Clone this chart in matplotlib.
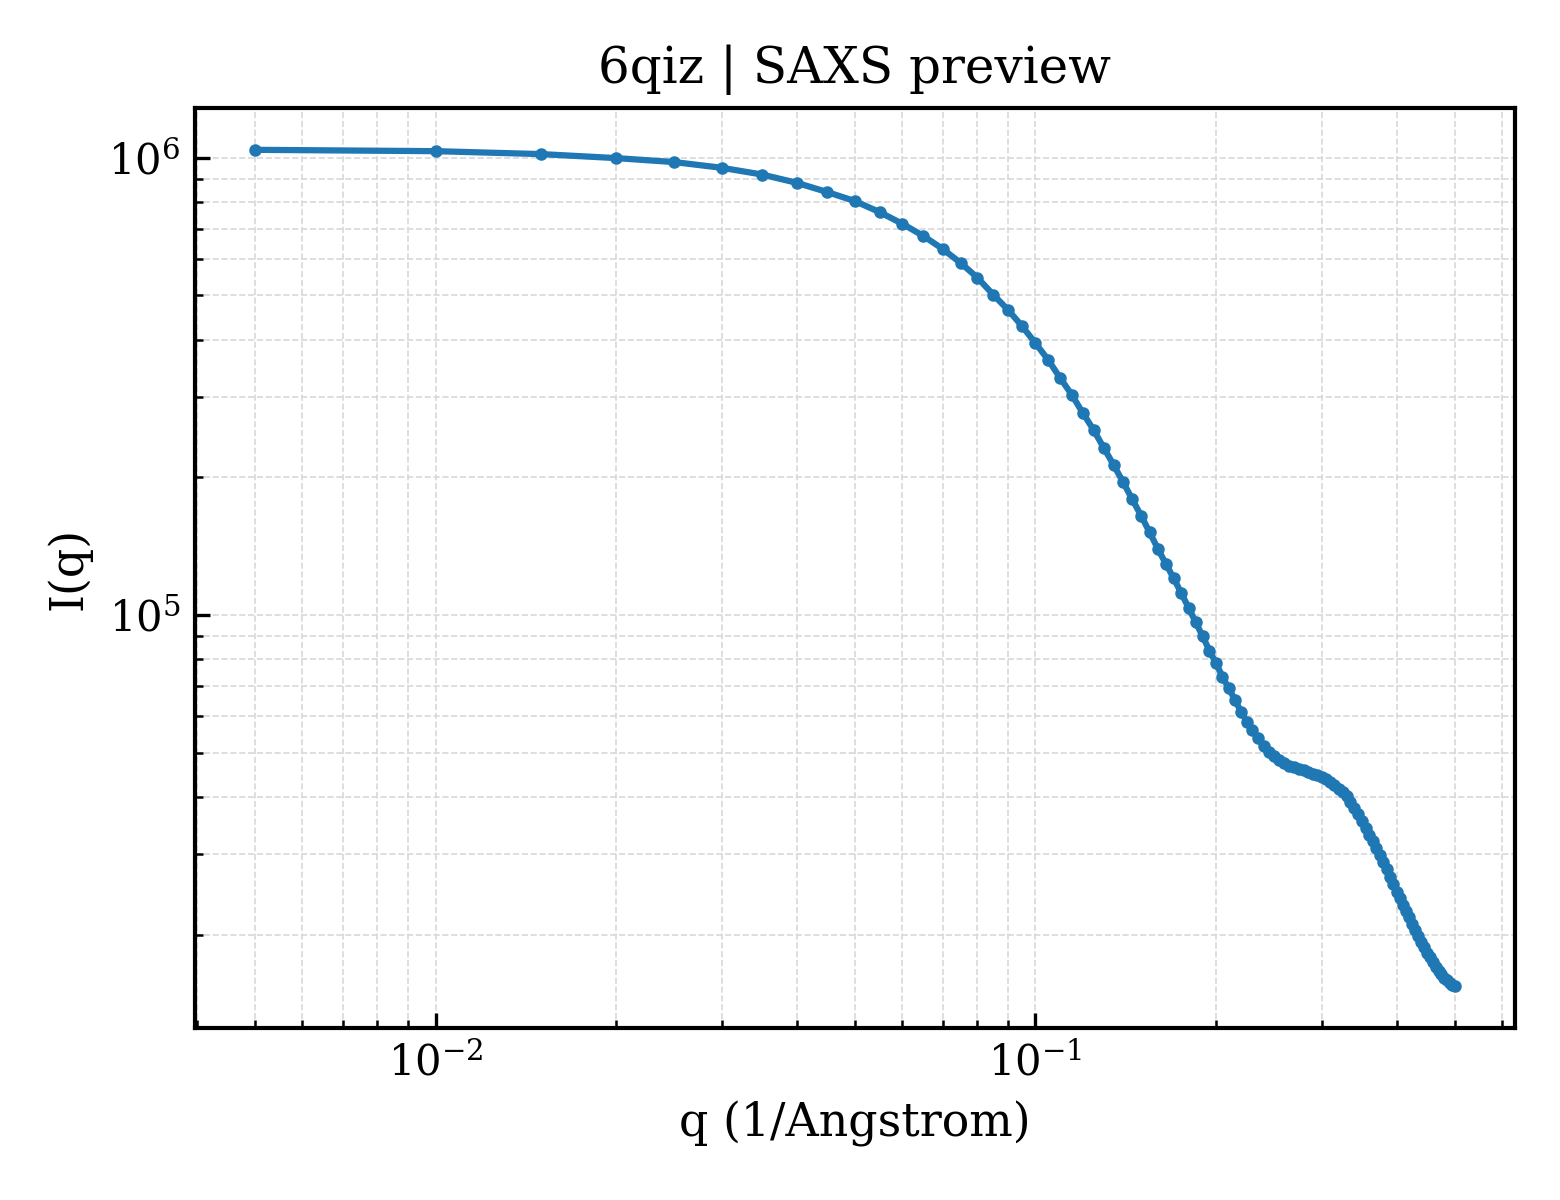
import matplotlib
matplotlib.use("Agg")
import matplotlib.pyplot as plt

q = [0.005, 0.010, 0.015, 0.020, 0.025, 0.030, 0.035, 0.040, 0.045, 0.050,
     0.055, 0.060, 0.065, 0.070, 0.075, 0.080, 0.085, 0.090, 0.095, 0.100,
     0.105, 0.110, 0.115, 0.120, 0.125, 0.130, 0.135, 0.140, 0.145, 0.150,
     0.155, 0.160, 0.165, 0.170, 0.175, 0.180, 0.185, 0.190, 0.195, 0.200,
     0.205, 0.210, 0.215, 0.220, 0.225, 0.230, 0.235, 0.240, 0.245, 0.250,
     0.255, 0.260, 0.265, 0.270, 0.275, 0.280, 0.285, 0.290, 0.295, 0.300,
     0.305, 0.310, 0.315, 0.320, 0.325, 0.330, 0.335, 0.340, 0.345, 0.350,
     0.355, 0.360, 0.365, 0.370, 0.375, 0.380, 0.385, 0.390, 0.395, 0.400,
     0.405, 0.410, 0.415, 0.420, 0.425, 0.430, 0.435, 0.440, 0.445, 0.450,
     0.455, 0.460, 0.465, 0.470, 0.475, 0.480, 0.485, 0.490, 0.495, 0.500]

intensity = [1041000, 1034000, 1018800, 998500, 978600, 950900, 919300, 881600, 841300, 804100,
             760600, 717100, 674900, 632200, 589200, 547100, 502200, 465000, 428200, 393200,
             361400, 329600, 303000, 276300, 254000, 232000, 212900, 195200, 179100, 164900,
             151700, 139500, 129300, 120300, 111700, 103700, 96390, 89820, 83540, 78400,
             73290, 69110, 65260, 61500, 58460, 56010, 53720, 51810, 50260, 49130,
             48150, 47430, 46840, 46420, 46040, 45700, 45350, 45010, 44690, 44290,
             43760, 43100, 42390, 41710, 40940, 40120, 39060, 37900, 36680, 35410,
             34190, 33060, 31980, 30960, 29920, 28850, 27810, 26780, 25780, 24830,
             24030, 23240, 22510, 21810, 21130, 20500, 19880, 19300, 18750, 18250,
             17820, 17400, 17030, 16670, 16360, 16100, 15890, 15700, 15540, 15420]

title = "6qiz | SAXS preview"
xlabel = "q (1/Angstrom)"
ylabel = "I(q)"

plt.rcParams['font.family'] = ['DejaVu Serif']
plt.rcParams['mathtext.fontset'] = 'dejavuserif'

fig = plt.figure(figsize=(5.2, 4.0), dpi=300)
ax = fig.add_axes([0.125, 0.1433, 0.846, 0.7667])

ax.plot(q, intensity, color='#1f77b4', linewidth=1.5, marker='o', markersize=2)
ax.set_xscale('log')
ax.set_yscale('log')

ax.grid(True, which='both', linestyle='--', linewidth=0.4, color='#d8d8d8')
ax.set_axisbelow(True)

ax.tick_params(which='both', direction='in', top=False, right=False, labelsize=10)
ax.tick_params(which='major', length=3.5, width=0.8)
ax.tick_params(which='minor', length=2, width=0.6)
for s in ax.spines.values():
    s.set_linewidth(1.0)

ax.set_title(title, fontsize=12)
ax.set_xlabel(xlabel, fontsize=11)
ax.set_ylabel(ylabel, fontsize=11)

fig.savefig("out.png", dpi=300)
